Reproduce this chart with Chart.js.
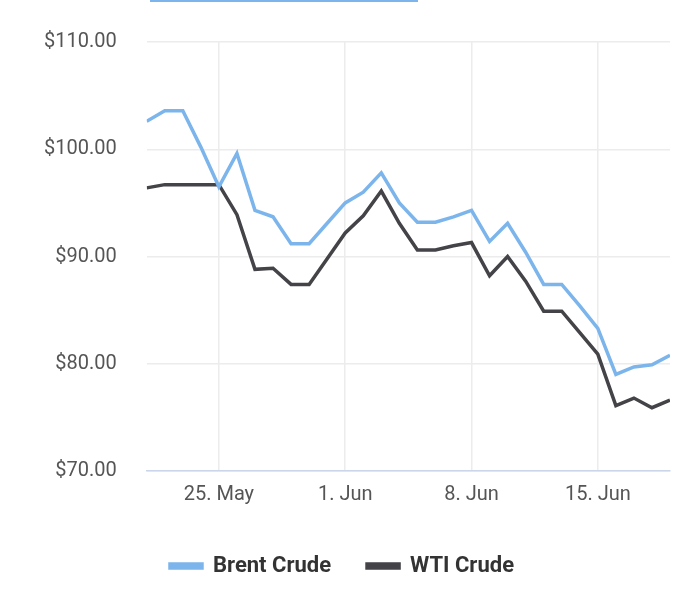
<!DOCTYPE html>
<html>
<head>
<meta charset="utf-8">
<script src="https://cdn.jsdelivr.net/npm/chart.js@4"></script>
<style>
  html, body { margin: 0; padding: 0; background: #fff; }
  #wrap { width: 700px; height: 593px; }
</style>
</head>
<body>
<div id="wrap"><canvas id="grafico"></canvas></div>
<script>
// === Dados ===
// dias a partir de 21 de maio
var dias = ["21 May","22 May","23 May","24 May","25 May","26 May","27 May","28 May","29 May","30 May",
  "31 May","1 Jun","2 Jun","3 Jun","4 Jun","5 Jun","6 Jun","7 Jun","8 Jun","9 Jun",
  "10 Jun","11 Jun","12 Jun","13 Jun","14 Jun","15 Jun","16 Jun","17 Jun","18 Jun","19 Jun"];
var brent = [102.6,103.6,103.6,100.2,96.5,99.6,94.3,93.7,91.2,91.2,
  93.1,95.0,96.0,97.8,95.0,93.2,93.2,93.7,94.3,91.4,
  93.1,90.4,87.4,87.4,85.4,83.3,79.0,79.7,79.9,80.8];
var wti = [96.4,96.7,96.7,96.7,96.7,93.9,88.8,88.9,87.4,87.4,
  89.8,92.2,93.8,96.1,93.1,90.6,90.6,91.0,91.3,88.2,
  90.0,87.7,84.9,84.9,82.9,80.9,76.1,76.8,75.9,76.6];
var tickDias = [4, 11, 18, 25];
var tickTextos = ["25. May", "1. Jun", "8. Jun", "15. Jun"];

function pontos(arr) {
  return arr.map(function (v, i) { return { x: i, y: v }; });
}

// linha azul cortada no topo
var linhaTopo = {
  id: 'linhaTopo',
  afterDraw: function (chart) {
    var c = chart.ctx;
    c.save();
    c.strokeStyle = '#7cb5ec';
    c.lineWidth = 2;
    c.beginPath();
    c.moveTo(150, 1);
    c.lineTo(418, 1);
    c.stroke();
    c.restore();
  }
};

Chart.defaults.font.family = 'Roboto, sans-serif';

new Chart(document.getElementById('grafico'), {
  type: 'line',
  data: {
    datasets: [{
      label: 'Brent Crude',
      data: pontos(brent),
      borderColor: '#7cb5ec',
      backgroundColor: '#7cb5ec',
      borderWidth: 3.5,
      pointRadius: 0,
      tension: 0
    }, {
      label: 'WTI Crude',
      data: pontos(wti),
      borderColor: '#434348',
      backgroundColor: '#434348',
      borderWidth: 3.5,
      pointRadius: 0,
      tension: 0
    }]
  },
  options: {
    responsive: true,
    maintainAspectRatio: false,
    animation: false,
    layout: { padding: { top: 31, right: 30, left: 14, bottom: 6 } },
    scales: {
      x: {
        type: 'linear',
        min: 0,
        max: 29,
        afterBuildTicks: function (axis) {
          axis.ticks = tickDias.map(function (d) { return { value: d }; });
        },
        ticks: {
          color: '#555',
          font: { size: 20 },
          padding: 12,
          callback: function (v) {
            var k = tickDias.indexOf(v);
            return k >= 0 ? tickTextos[k] : '';
          }
        },
        grid: { color: '#ececec', lineWidth: 1.5, drawTicks: false },
        border: { color: '#ccd6eb', width: 1.5 }
      },
      y: {
        min: 70,
        max: 110,
        ticks: {
          stepSize: 10,
          color: '#555',
          font: { size: 20 },
          padding: 30,
          callback: function (v) { return '$' + v.toFixed(2); }
        },
        grid: { color: '#ececec', lineWidth: 1.5, drawTicks: false },
        border: { display: false }
      }
    },
    plugins: {
      legend: {
        position: 'bottom',
        labels: {
          color: '#333',
          font: { size: 22, weight: 'bold' },
          boxWidth: 32,
          boxHeight: 4,
          padding: 36
        }
      },
      tooltip: { enabled: false }
    }
  },
  plugins: [linhaTopo]
});
</script>
</body>
</html>
